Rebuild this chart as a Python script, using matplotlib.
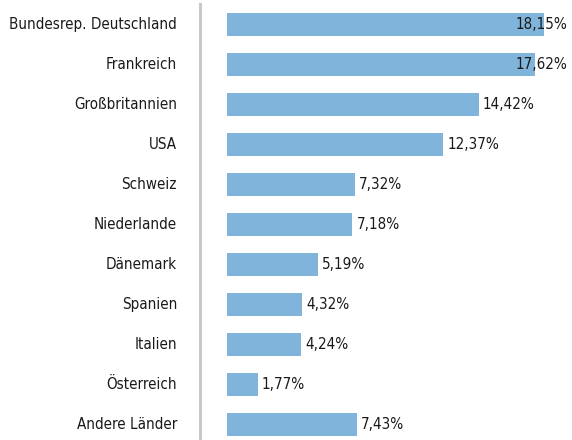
import matplotlib.pyplot as plt
from matplotlib import font_manager

# Anteile nach Herkunftsland
laender = ['Bundesrep. Deutschland', 'Frankreich', 'Großbritannien', 'USA',
           'Schweiz', 'Niederlande', 'Dänemark', 'Spanien', 'Italien',
           'Österreich', 'Andere Länder']
anteile = [18.15, 17.62, 14.42, 12.37, 7.32, 7.18, 5.19, 4.32, 4.24, 1.77, 7.43]

# schmale Schrift suchen, sonst normale Liberation Sans
narrow = None
for f in font_manager.fontManager.ttflist:
    fn = f.fname.lower()
    if ('narrow' in fn or 'condensed' in fn) and 'bold' not in fn and 'oblique' not in fn \
            and 'italic' not in fn and 'mono' not in fn and 'serif' not in fn \
            and 'light' not in fn and 'medium' not in fn and 'semi' not in fn:
        if narrow is None or 'liberation' in fn:
            narrow = f.fname
if narrow:
    fp = font_manager.FontProperties(fname=narrow)
else:
    fp = font_manager.FontProperties(family='Liberation Sans')

W, H = 572, 440
fig = plt.figure(figsize=(W / 100, H / 100), dpi=100)

# Schriftgröße so wählen, dass der längste Name 167 px breit ist
fp.set_size(12)
probe = fig.text(0, 0, laender[0], fontproperties=fp)
renderer = fig.canvas.get_renderer()
w = probe.get_window_extent(renderer).width
probe.remove()
fp.set_size(min(13.3, 12 * 167 / w))

ax = fig.add_axes([200 / W, 0, (W - 200) / W, 436 / H])

px = 17.47  # pixels per percent
x0 = -27 / px
x1 = (W - 200) / px + x0
ax.set_xlim(x0, x1)
ax.set_ylim(10 + 15.5 / 40, -0.5 - 0.5 / 40)

y = list(range(len(laender)))
ax.barh(y, anteile, height=0.575, color='#80b4da')

right_edge = (567 - 200) / px + x0
for yi, v in zip(y, anteile):
    label = f'{v:.2f}%'.replace('.', ',')
    if v > 16:
        ax.text(right_edge, yi, label, ha='right', va='center',
                fontproperties=fp, color='#1a1a1a')
    else:
        ax.annotate(label, (v, yi), xytext=(4, 0), textcoords='offset pixels',
                    ha='left', va='center', fontproperties=fp, color='#1a1a1a')

ax.set_yticks(y)
ax.set_yticklabels(laender, fontproperties=fp, color='#1a1a1a', va='center')
ax.tick_params(axis='y', length=0, pad=16.5)
ax.set_xticks([])
for s in ['top', 'right', 'bottom']:
    ax.spines[s].set_visible(False)
ax.spines['left'].set_color('#c8c8c8')
ax.spines['left'].set_linewidth(2.2)

fig.savefig('out.png', dpi=100)
